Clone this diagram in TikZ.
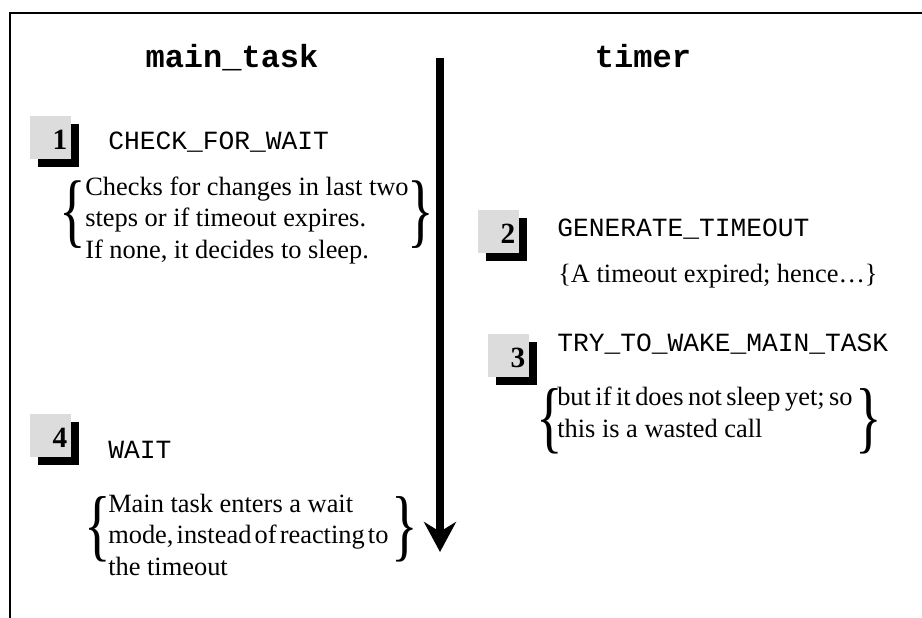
\documentclass[tikz,border=0pt]{standalone}
\usepackage{fontspec}
\setmainfont{Liberation Serif}
\setmonofont{Liberation Mono}
\usepackage{graphicx}
\usetikzlibrary{
	arrows.meta,                % For the Stealth tip of the time line
	shadows                     % For the black shadow behind the step numbers
}
\definecolor{boxgray}{HTML}{DCDCDC}
\tikzset{
	title/.style={
		anchor=base,
		inner sep=0pt,
		font=\ttfamily\bfseries\fontsize{24}{28}\selectfont
	},
	stepnum/.style={
		fill=boxgray,
		minimum width=30.75pt,
		minimum height=32.25pt,
		text width=25.35pt,
		text height=18pt,
		text depth=0pt,
		inner xsep=2.7pt,
		inner ysep=0pt,
		align=right,
		drop shadow={shadow xshift=6pt, shadow yshift=-6pt, fill=black, opacity=1},
		font=\bfseries\fontsize{22}{26}\selectfont
	},
	stepname/.style={
		anchor=base west,
		inner sep=0pt,
		font=\ttfamily\fontsize{19.7}{23}\selectfont
	},
	note/.style={
		anchor=base west,       % baseline of the last line
		inner sep=0pt,
		align=left,
		font=\fontsize{19.8}{23.4}\selectfont
	},
	lbrace/.style={
		inner sep=0pt,
		font=\fontsize{19.8}{24}\selectfont
	},
	rbrace/.style={
		inner sep=0pt,
		font=\fontsize{19.8}{24}\selectfont
	},
	timeline/.style={
		-{Stealth[length=22.5pt, width=24pt]},
		line width=6pt
	},
	frameline/.style={
		line width=1.5pt
	}
}

\begin{document}
\begin{tikzpicture}[x=0.75pt, y=-0.75pt]
	\useasboundingbox (0,0) rectangle (922,618);
	
	% Frame (open to the right and bottom)
	\draw [frameline] (922,13) -| (10,618);
	
	% Column titles
	\node [title] (mainTitle) at (232,67) {main\_task};
	\node [title] (timerTitle) at (643,67) {timer};
	
	% Time line between the two columns
	\coordinate (tTop) at (440,58);
	\coordinate (tBot) at (440,552);
	\draw [timeline] (tTop) -- (tBot);
	
	% Step 1: main_task
	\node [stepnum] (num1) at (50.5,137.5) {1};
	\node [stepname] (name1) at (108,149) {CHECK\_FOR\_WAIT};
	\node [note] (desc1) at (85,258) {Checks for changes in last two\\steps or if timeout expires.\\If none, it decides to sleep.};
	\node [lbrace] (open1) at (72.5,215) {\scalebox{2.1}[3.1]{\{}};
	\node [rbrace] (close1) at (421,215) {\scalebox{2.1}[3.1]{\}}};
	
	% Step 2: timer
	\node [stepnum] (num2) at (498.5,231.5) {2};
	\node [stepname] (name2) at (557,236) {GENERATE\_TIMEOUT};
	\node [note] (desc2) at (558,282) {\{A timeout expired; hence\ldots\}};
	
	% Step 3: timer
	\node [stepnum] (num3) at (508.5,355.5) {3};
	\node [stepname] (name3) at (557,351) {TRY\_TO\_WAKE\_MAIN\_TASK};
	\node [note] (desc3) at (557,437) {{\spaceskip=0.17em\relax but if it does not sleep yet; so}\\this is a wasted call};
	\node [lbrace] (open3) at (549.5,421) {\scalebox{2.1}[3.0]{\{}};
	\node [rbrace] (close3) at (869,421) {\scalebox{2.1}[3.0]{\}}};
	
	% Step 4: main_task
	\node [stepnum] (num4) at (50.5,435) {4};
	\node [stepname] (name4) at (108,458) {WAIT};
	\node [note] (desc4) at (108,575) {Main task enters a wait\\{\spaceskip=0.12em\relax mode, instead of reacting to}\\the timeout};
	\node [lbrace] (open4) at (98,529) {\scalebox{2.1}[3.0]{\{}};
	\node [rbrace] (close4) at (405,529) {\scalebox{2.1}[3.0]{\}}};
\end{tikzpicture}
\end{document}
